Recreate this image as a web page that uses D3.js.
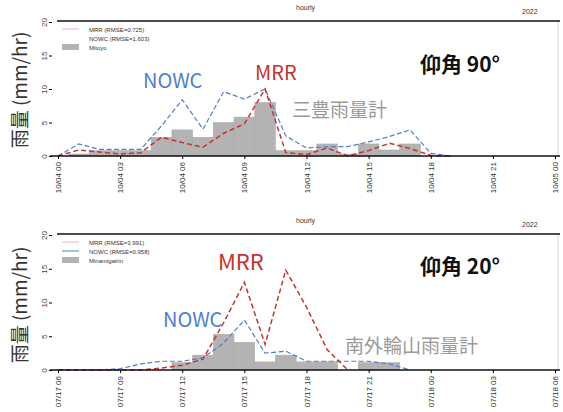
<!DOCTYPE html>
<html>
<head>
<meta charset="utf-8">
<script src="https://cdn.jsdelivr.net/npm/d3@7"></script>
<style>
  body { margin: 0; background: #fff; }
  svg { display: block; font-family: "Liberation Sans", Arial, sans-serif; }
  .jp { font-family: "Noto Sans CJK JP", sans-serif; }
</style>
</head>
<body>
<div id="container"></div>
<script>
// hours from start of each panel (0..24)
const hours = d3.range(0, 25);

// top panel: elevation 90, Mitoyo gauge, 10/04 00 -> 10/05 00
const topTicks = ["10/04 00", "10/04 03", "10/04 06", "10/04 09", "10/04 12", "10/04 15", "10/04 18", "10/04 21", "10/05 00"];
const topGauge = [0, 0.3, 0.8, 0.8, 0.8, 2.8, 3.9, 2.8, 5, 5.8, 8, 0.8, 0.8, 1.8, 0.3, 1.8, 0.9, 1.8, 0, 0, 0, 0, 0, 0, 0];
const topNowc = [0, 1.8, 1, 1, 1, 4.5, 8.4, 4, 9.6, 8.5, 10, 3, 1.2, 1.4, 1.4, 2.1, 2.9, 3.9, 0.4, 0];
const topMrr = [0, 0.9, 0.6, 0.3, 0.5, 2.8, 2, 1.3, 3.4, 4.8, 10, 0.5, 0.2, 1.2, 0, 0.8, 1.9, 1.1, 0.1, 0];

// bottom panel: elevation 20, Minamigairin gauge, 07/17 06 -> 07/18 06
const botTicks = ["07/17 06", "07/17 09", "07/17 12", "07/17 15", "07/17 18", "07/17 21", "07/18 00", "07/18 03", "07/18 06"];
const botGauge = [0, 0, 0, 0, 0, 0, 1.1, 2.2, 5.3, 4.1, 1.2, 2.2, 1.2, 1.2, 0, 1.1, 1.1, 0, 0, 0, 0, 0, 0, 0, 0];
const botNowc = [0, 0, 0, 0.2, 0.9, 1.3, 1.3, 1.8, 4, 7.4, 2.5, 2.8, 1.3, 1.3, 1.3, 1.3, 0.9, 0];
const botMrr = [0, 0, 0, 0, 0, 0.3, 0.7, 1.6, 7, 13, 3.8, 14.8, 9.3, 3, 0];

const yTicks = [0, 5, 10, 15, 20];

const width = 563, height = 412;
const red = "#c8322d", blue = "#4f7fd0";

const svg = d3.select("#container").append("svg")
    .attr("width", width)
    .attr("height", height);

const x = d3.scaleLinear().domain([0, 24]).range([58, 555]);

function drawPanel(cfg) {
    var y = d3.scaleLinear().domain([0, 20]).range([cfg.bottom, cfg.top]);
    var g = svg.append("g");

    // gauge bars, centred on the hour
    var bw = x(1) - x(0);
    g.selectAll("rect.bar")
        .data(cfg.gauge.map((v, i) => ({h: hours[i], v: v})).filter(d => d.v > 0))
        .join("rect")
        .attr("class", "bar")
        .attr("x", d => x(d.h) - bw / 2)
        .attr("width", bw)
        .attr("y", d => y(d.v))
        .attr("height", d => y(0) - y(d.v))
        .attr("fill", "#b3b3b3")
        .attr("stroke", "#a8a8a8")
        .attr("stroke-width", 0.5);

    function addLine(data, col, sw, dash) {
        g.append("path")
            .datum(data)
            .attr("fill", "none")
            .attr("stroke", col)
            .attr("stroke-width", sw)
            .attr("stroke-dasharray", dash)
            .attr("d", d3.line().x((_, i) => x(hours[i])).y(d => y(d)));
    }
    addLine(cfg.nowc, blue, 1.2, "5,2.5");
    addLine(cfg.mrr, red, 1.5, "5,3");

    // frame: top line, x axis, right edge
    g.append("line").attr("x1", 57).attr("x2", 560).attr("y1", cfg.top - 1).attr("y2", cfg.top - 1)
        .attr("stroke", "#111").attr("stroke-width", 1.5);
    g.append("line").attr("x1", 558).attr("x2", 558).attr("y1", cfg.top).attr("y2", cfg.bottom)
        .attr("stroke", "#ccc").attr("stroke-width", 0.8);

    var xa = g.append("g")
        .attr("transform", `translate(0,${cfg.bottom})`)
        .call(d3.axisBottom(x).tickValues(d3.range(0, 25, 3)).tickSize(3)
            .tickFormat((d, i) => cfg.ticks[i]));
    xa.select(".domain").attr("stroke", "#111").attr("stroke-width", 1.5)
        .attr("d", "M50,0H560");
    xa.selectAll("text")
        .attr("font-size", 8)
        .attr("fill", "#333")
        .attr("text-anchor", "end")
        .attr("transform", "rotate(-90)")
        .attr("x", -6)
        .attr("y", 0)
        .attr("dy", "0.32em");

    var ya = g.append("g")
        .attr("transform", "translate(52,0)")
        .call(d3.axisLeft(y).tickValues(yTicks).tickSize(3));
    ya.select(".domain").remove();
    ya.selectAll("text")
        .attr("font-size", 8)
        .attr("fill", "#444")
        .attr("text-anchor", "middle")
        .attr("x", 0)
        .attr("y", 0)
        .attr("dy", 0)
        .attr("transform", "translate(-5,0) rotate(-90)");

    // title row
    svg.append("text").attr("x", 296).attr("y", cfg.top - 12).attr("font-size", 7)
        .attr("fill", "#333").text("hourly");
    svg.append("text").attr("x", 522).attr("y", cfg.top - 8).attr("font-size", 7)
        .attr("fill", "#333").text("2022");

    // legend
    var lx = 62, ly = cfg.top + 7;
    var leg = [
        {type: "line", col: "#e8b8b8", label: cfg.legend[0]},
        {type: "line", col: cfg.blueLegend, label: cfg.legend[1]},
        {type: "box", col: "#b3b3b3", label: cfg.legend[2]}
    ];
    leg.forEach((d, i) => {
        var yy = ly + i * 9;
        if (d.type === "line") {
            svg.append("line").attr("x1", lx).attr("x2", lx + 17).attr("y1", yy).attr("y2", yy)
                .attr("stroke", d.col).attr("stroke-width", 1);
        } else {
            svg.append("rect").attr("x", lx).attr("y", yy - 3).attr("width", 17).attr("height", 6)
                .attr("fill", d.col);
        }
        svg.append("text").attr("x", lx + 27).attr("y", yy + 2.5).attr("font-size", 6)
            .attr("fill", "#333").text(d.label);
    });

    // y label
    svg.append("text").attr("class", "jp")
        .attr("transform", `translate(27,${cfg.labelY}) rotate(-90)`)
        .attr("text-anchor", "middle")
        .attr("font-size", 19)
        .attr("fill", "#333")
        .text("雨量 (mm/hr)");

    // annotations
    cfg.notes.forEach(n => {
        svg.append("text").attr("class", "jp")
            .attr("x", n.x).attr("y", n.y)
            .attr("font-size", n.size)
            .attr("font-weight", n.bold ? "bold" : "normal")
            .attr("fill", n.col)
            .text(n.t);
    });
}

drawPanel({
    top: 22, bottom: 156, labelY: 90,
    ticks: topTicks, gauge: topGauge, nowc: topNowc, mrr: topMrr,
    legend: ["MRR (RMSE=0.725)", "NOWC (RMSE=1.603)", "Mitoyo"],
    blueLegend: "#ffffff",
    notes: [
        {t: "NOWC", x: 143, y: 88, size: 20, col: blue},
        {t: "MRR", x: 255, y: 80, size: 20, col: red},
        {t: "三豊雨量計", x: 292, y: 117, size: 19, col: "#9a9a9a"},
        {t: "仰角 90°", x: 420, y: 72, size: 21, col: "#111", bold: true}
    ]
});

drawPanel({
    top: 235, bottom: 370, labelY: 305,
    ticks: botTicks, gauge: botGauge, nowc: botNowc, mrr: botMrr,
    legend: ["MRR (RMSE=3.991)", "NOWC (RMSE=0.958)", "Minamigairin"],
    blueLegend: blue,
    notes: [
        {t: "MRR", x: 218, y: 270, size: 22, col: red},
        {t: "NOWC", x: 163, y: 327, size: 20, col: blue},
        {t: "南外輪山雨量計", x: 345, y: 353, size: 19, col: "#9a9a9a"},
        {t: "仰角 20°", x: 420, y: 274, size: 21, col: "#111", bold: true}
    ]
});
</script>
</body>
</html>
